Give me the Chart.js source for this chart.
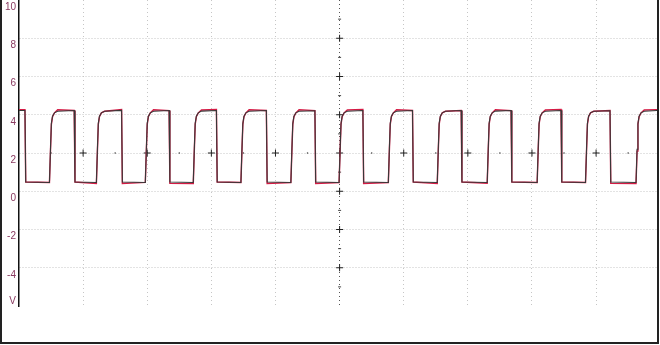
<!DOCTYPE html>
<html>
<head>
<meta charset="utf-8">
<script src="https://cdn.jsdelivr.net/npm/chart.js@4.4.0/dist/chart.umd.min.js"></script>
<style>
html, body { margin: 0; padding: 0; background: #fff; }
#frame { position: absolute; left: 0; top: 0; width: 655px; height: 342px;
  border-left: 2px solid #222; border-right: 2px solid #222; border-bottom: 2px solid #222; }
canvas { display: block; }
</style>
</head>
<body>
<div id="frame"><canvas id="scope" width="655" height="342"></canvas></div>
<script>
// time in divisions, volts
var timeDiv = [
  0, 0.093, 0.105,
  0.475, 0.491, 0.505, 0.523, 0.553, 0.603, 0.861, 0.873,
  1.207, 1.223, 1.237, 1.255, 1.285, 1.335, 1.600, 1.612,
  1.970, 1.986, 2.000, 2.018, 2.048, 2.098, 2.341, 2.353,
  2.718, 2.734, 2.748, 2.766, 2.796, 2.846, 3.079, 3.091,
  3.461, 3.477, 3.491, 3.509, 3.539, 3.589, 3.858, 3.870,
  4.240, 4.256, 4.270, 4.288, 4.318, 4.368, 4.615, 4.627,
  4.992, 5.008, 5.022, 5.040, 5.070, 5.120, 5.363, 5.375,
  5.760, 5.776, 5.790, 5.808, 5.838, 5.888, 6.137, 6.149,
  6.523, 6.539, 6.553, 6.571, 6.601, 6.651, 6.896, 6.908,
  7.302, 7.318, 7.332, 7.350, 7.380, 7.430, 7.674, 7.686,
  8.081, 8.097, 8.111, 8.129, 8.159, 8.209, 8.453, 8.465,
  8.835, 8.851, 8.865, 8.883, 8.913, 8.963, 9.217, 9.229,
  9.623, 9.639, 9.653, 9.671, 9.701, 9.751, 9.95
];
// black trace
var chanA = [
  4.22, 4.22, 0.48,
  0.46, 2.2, 3.55, 3.92, 4.1, 4.18, 4.22, 0.48,
  0.46, 2.2, 3.55, 3.92, 4.1, 4.18, 4.23, 0.48,
  0.46, 2.2, 3.55, 3.92, 4.1, 4.18, 4.22, 0.48,
  0.46, 2.2, 3.55, 3.92, 4.1, 4.19, 4.22, 0.48,
  0.46, 2.2, 3.55, 3.92, 4.1, 4.18, 4.22, 0.48,
  0.46, 2.2, 3.55, 3.92, 4.1, 4.18, 4.21, 0.48,
  0.46, 2.2, 3.55, 3.92, 4.1, 4.18, 4.22, 0.48,
  0.46, 2.2, 3.55, 3.92, 4.1, 4.18, 4.22, 0.48,
  0.46, 2.2, 3.55, 3.92, 4.1, 4.18, 4.22, 0.48,
  0.46, 2.2, 3.55, 3.92, 4.1, 4.19, 4.22, 0.48,
  0.46, 2.2, 3.55, 3.92, 4.1, 4.18, 4.22, 0.48,
  0.46, 2.2, 3.55, 3.92, 4.1, 4.18, 4.21, 0.48,
  0.46, 2.2, 3.55, 3.92, 4.1, 4.18, 4.22
];
// red trace
var chanB = [
  4.26, 4.26, 0.48,
  0.46, 2.1, 3.5, 3.9, 4.1, 4.26, 4.22, 0.48,
  0.40, 2.1, 3.5, 3.9, 4.1, 4.18, 4.27, 0.41,
  0.46, 2.1, 3.5, 3.9, 4.1, 4.26, 4.22, 0.41,
  0.40, 2.1, 3.5, 3.9, 4.1, 4.25, 4.27, 0.48,
  0.46, 2.1, 3.5, 3.9, 4.1, 4.26, 4.22, 0.41,
  0.46, 2.1, 3.5, 3.9, 4.1, 4.26, 4.22, 0.41,
  0.46, 2.1, 3.5, 3.9, 4.1, 4.25, 4.27, 0.41,
  0.46, 2.1, 3.5, 3.9, 4.1, 4.26, 4.22, 0.48,
  0.40, 2.1, 3.5, 3.9, 4.1, 4.18, 4.22, 0.48,
  0.42, 2.1, 3.5, 3.9, 4.1, 4.26, 4.22, 0.48,
  0.46, 2.1, 3.5, 3.9, 4.1, 4.25, 4.27, 0.48,
  0.46, 2.1, 3.5, 3.9, 4.1, 4.18, 4.22, 0.41,
  0.40, 2.1, 3.5, 3.9, 4.1, 4.25, 4.27
];
// graticule crosses (centre lines)
var crossX = [1, 2, 3, 4, 5, 6, 7, 8, 9, 5, 5, 5, 5, 5, 5];
var crossY = [2, 2, 2, 2, 2, 2, 2, 2, 2, -4, -2, 0, 4, 6, 8];
// small marks between
var minorHX = [0.5, 1.5, 2.5, 3.5, 4.5, 5.5, 6.5, 7.5, 8.5, 9.5];
var minorVY = [-5, -3, -1, 1, 3, 5, 7, 9];

function pts(xs, ys) {
    return xs.map(function (x, i) { return {x: x, y: ys[i]}; });
}

var gridGray = '#c6c6c6';
var labelColor = '#8a3a60';

new Chart(document.getElementById('scope'), {
    type: 'line',
    data: {
        datasets: [
            { data: pts(timeDiv, chanA), borderColor: '#383838', borderWidth: 1.1, pointRadius: 0, tension: 0, order: 0 },
            { data: pts(timeDiv, chanB), borderColor: '#d41a44', borderWidth: 1.4, pointRadius: 0, tension: 0, order: 1 },
            { type: 'scatter', data: pts(crossX, crossY), pointStyle: 'cross', pointRadius: 3.5, borderColor: '#222', borderWidth: 1, order: 2 },
            { type: 'scatter', data: pts(minorHX, minorHX.map(function () { return 2; })), pointStyle: 'circle', pointRadius: 0.8, backgroundColor: '#444', borderWidth: 0, order: 3 },
            { type: 'scatter', data: pts(minorVY.map(function () { return 5; }), minorVY), pointStyle: 'line', pointRadius: 1.5, borderColor: '#444', borderWidth: 1, order: 3 }
        ]
    },
    options: {
        responsive: false,
        animation: false,
        events: [],
        layout: { padding: 0, autoPadding: false },
        plugins: { legend: { display: false }, tooltip: { enabled: false } },
        scales: {
            x: {
                type: 'linear', min: 0, max: 9.95,
                ticks: { display: false, stepSize: 1, includeBounds: false },
                grid: {
                    drawTicks: false, lineWidth: 1,
                    color: function (c) {
                        var v = c.tick ? c.tick.value : 0;
                        if (v === 5) return '#555';
                        if (v <= 0 || v > 9.5) return 'rgba(0,0,0,0)';
                        return gridGray;
                    }
                },
                border: { display: false, dash: [1, 3] },
                afterFit: function (s) {
                    s.height = 36;
                    s.paddingLeft = 0; s.paddingRight = 0;
                }
            },
            y: {
                min: -6, max: 10,
                ticks: {
                    stepSize: 2, autoSkip: false, padding: 3, labelOffset: 7,
                    color: labelColor,
                    font: { family: 'Liberation Sans', size: 10 },
                    callback: function (v) { return v === -6 ? ['V', '', ''] : v; }
                },
                grid: {
                    drawTicks: false, lineWidth: 1,
                    color: function (c) {
                        var v = c.tick ? c.tick.value : 0;
                        if (v === -6 || v === 10) return 'rgba(0,0,0,0)';
                        return gridGray;
                    }
                },
                border: { display: true, color: '#111', width: 1.5, dash: [1, 2] },
                afterFit: function (s) {
                    s.width = 17;
                    s.paddingTop = 0; s.paddingBottom = 0;
                }
            }
        }
    }
});
</script>
</body>
</html>
